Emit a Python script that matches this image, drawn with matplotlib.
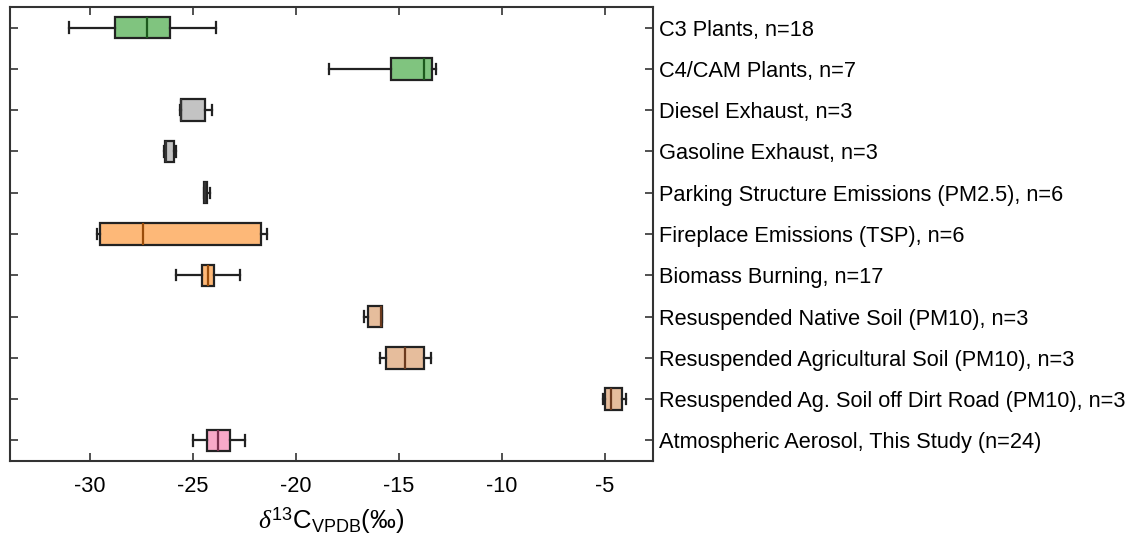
import matplotlib
matplotlib.use("Agg")
import matplotlib.pyplot as plt

plt.rcParams['font.family'] = ['Liberation Sans', 'DejaVu Sans']
plt.rcParams['mathtext.fontset'] = 'custom'
plt.rcParams['mathtext.rm'] = 'Liberation Sans'
plt.rcParams['mathtext.it'] = 'Liberation Serif:italic'

# delta 13C source signatures: whisker low, q1, median, q3, whisker high
labels = [
    "C3 Plants, n=18",
    "C4/CAM Plants, n=7",
    "Diesel Exhaust, n=3",
    "Gasoline Exhaust, n=3",
    "Parking Structure Emissions (PM2.5), n=6",
    "Fireplace Emissions (TSP), n=6",
    "Biomass Burning, n=17",
    "Resuspended Native Soil (PM10), n=3",
    "Resuspended Agricultural Soil (PM10), n=3",
    "Resuspended Ag. Soil off Dirt Road (PM10), n=3",
    "Atmospheric Aerosol, This Study (n=24)",
]
whislo = [-31.0, -18.4, -25.62, -26.40, -24.48, -29.67, -25.83, -16.68, -15.92, -5.10, -24.98]
q1     = [-28.79, -15.40, -25.60, -26.37, -24.47, -29.51, -24.58, -16.52, -15.63, -4.98, -24.30]
med    = [-27.22, -13.80, -25.58, -26.33, -24.40, -27.44, -24.27, -15.88, -14.71, -4.72, -23.77]
q3     = [-26.13, -13.38, -24.42, -25.94, -24.31, -21.71, -23.99, -15.84, -13.77, -4.17, -23.20]
whishi = [-23.90, -13.19, -24.06, -25.83, -24.17, -21.41, -22.72, -15.84, -13.46, -4.00, -22.48]

groups = ["plant", "plant", "vehicle", "vehicle", "vehicle", "burning", "burning",
          "soil", "soil", "soil", "aerosol"]
fill = {"plant": "#80c47f", "vehicle": "#c3c3c3", "burning": "#fdb878",
        "soil": "#e6bd9c", "aerosol": "#f8a9c8"}
median_col = {"plant": "#1d5a1d", "vehicle": "#333333", "burning": "#9a4c0a",
              "soil": "#6b3a1e", "aerosol": "#7a2f4e"}

fig = plt.figure(figsize=(11.35, 5.37), dpi=100)
ax = fig.add_axes([10 / 1135, 1 - 461 / 537, 643 / 1135, 454 / 537])

positions = list(range(1, len(labels) + 1))
for i, pos in enumerate(positions):
    stats = [dict(whislo=whislo[i], q1=q1[i], med=med[i], q3=q3[i],
                  whishi=whishi[i], fliers=[])]
    g = groups[i]
    ax.bxp(stats, positions=[pos], vert=False, widths=0.52, patch_artist=True,
           showfliers=False,
           boxprops=dict(facecolor=fill[g], edgecolor="#222222", linewidth=1.6),
           medianprops=dict(color=median_col[g], linewidth=1.6),
           whiskerprops=dict(color="#222222", linewidth=1.6),
           capprops=dict(color="#222222", linewidth=1.6),
           capwidths=0.25)

ax.set_xlim(-33.88, -2.67)
ax.set_ylim(11.5, 0.5)
ax.set_xticks([-30, -25, -20, -15, -10, -5])
ax.set_xticklabels(["-30", "-25", "-20", "-15", "-10", "-5"])
ax.set_yticks(positions)
ax.set_yticklabels(labels)
ax.yaxis.tick_right()
ax.tick_params(axis="y", which="both", left=True, right=True, direction="in",
               length=6, width=1.2, color="#333333", labelsize=15.7, pad=4)
ax.tick_params(axis="x", which="both", top=True, bottom=True, direction="in",
               length=6, width=1.2, color="#333333", labelsize=15.7, pad=11)
for s in ax.spines.values():
    s.set_color("#333333")
    s.set_linewidth(1.5)

ax.set_xlabel(r"$\mathit{\delta}^{13}\mathrm{C}_{\mathrm{VPDB}}\mathrm{(‰)}$",
              fontsize=18.5, labelpad=6)

fig.savefig("out.png", dpi=100)
